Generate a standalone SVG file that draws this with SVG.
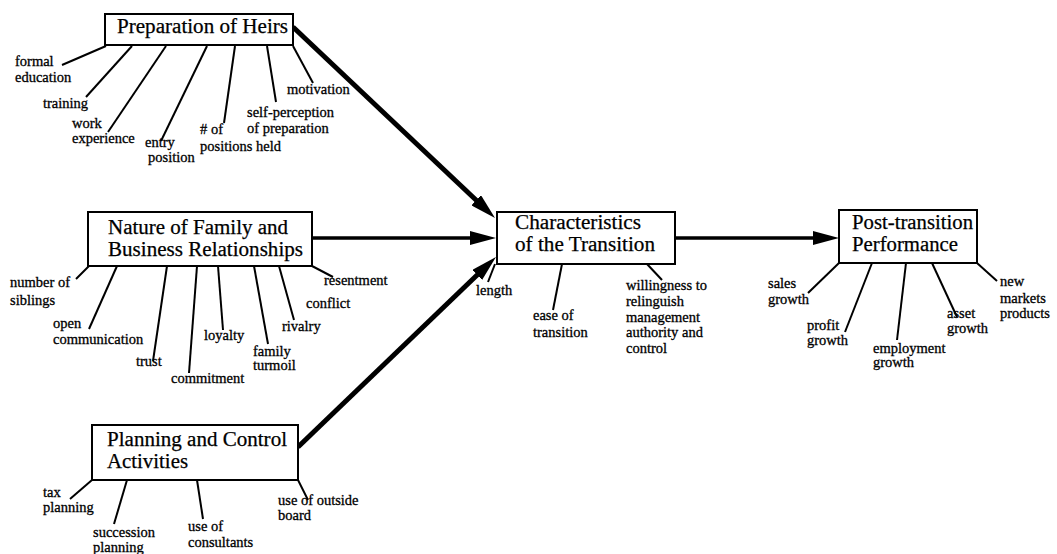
<svg xmlns="http://www.w3.org/2000/svg" width="1057" height="554" viewBox="0 0 1057 554">
  <style>
    .box { fill: #fff; stroke: #000; stroke-width: 2; }
    .title { font-family: "Liberation Serif", "Times New Roman", serif; font-size: 20px; fill: #000; stroke: #000; stroke-width: 0.25; }
    .lbl { font-family: "Liberation Serif", "Times New Roman", serif; font-size: 14.5px; fill: #000; stroke: #000; stroke-width: 0.3; }
    .tick { stroke: #000; stroke-width: 2; fill: none; }
    .arrow { stroke: #000; fill: none; marker-end: url(#head); }
  </style>
  <defs>
    <marker id="head" viewBox="0 0 26 14" refX="14" refY="7" markerWidth="26" markerHeight="14" markerUnits="userSpaceOnUse" orient="auto">
      <path d="M0,0 L26,7 L0,14 Z" fill="#000"/>
    </marker>
  </defs>
  <rect width="1057" height="554" fill="#fff"/>

  <!-- main arrows between constructs -->
  <g id="connectors">
    <line class="arrow" x1="293" y1="27" x2="486.3" y2="209.8" stroke-width="5"/>
    <line class="arrow" x1="312" y1="238" x2="484" y2="238" stroke-width="3.5"/>
    <line class="arrow" x1="298" y1="447" x2="487.3" y2="265.3" stroke-width="5"/>
    <line class="arrow" x1="676" y1="238" x2="827" y2="238" stroke-width="3.5"/>
  </g>

  <!-- Preparation of Heirs -->
  <g id="heirs">
    <rect class="box" x="105" y="14" width="188" height="31"/>
    <text class="title" x="117" y="33" textLength="171" lengthAdjust="spacingAndGlyphs">Preparation of Heirs</text>
    <line class="tick" x1="106" y1="46" x2="62" y2="65"/>
    <line class="tick" x1="132" y1="46" x2="86" y2="97"/>
    <line class="tick" x1="166" y1="46" x2="108" y2="132"/>
    <line class="tick" x1="207" y1="46" x2="161" y2="141"/>
    <line class="tick" x1="235" y1="46" x2="224" y2="123"/>
    <line class="tick" x1="267" y1="46" x2="276" y2="102"/>
    <line class="tick" x1="293" y1="46" x2="313" y2="83"/>
    <text class="lbl" x="15" y="66">formal</text>
    <text class="lbl" x="15" y="82">education</text>
    <text class="lbl" x="43" y="108">training</text>
    <text class="lbl" x="72" y="128">work</text>
    <text class="lbl" x="72" y="143">experience</text>
    <text class="lbl" x="145" y="147">entry</text>
    <text class="lbl" x="148" y="162">position</text>
    <text class="lbl" x="200" y="134">#  of</text>
    <text class="lbl" x="200" y="151">positions held</text>
    <text class="lbl" x="247" y="117">self-perception</text>
    <text class="lbl" x="247" y="133">of preparation</text>
    <text class="lbl" x="287" y="94">motivation</text>
  </g>

  <!-- Nature of Family and Business Relationships -->
  <g id="relationships">
    <rect class="box" x="88" y="212" width="224" height="54"/>
    <text class="title" x="108" y="234" textLength="180" lengthAdjust="spacingAndGlyphs">Nature of Family and</text>
    <text class="title" x="108" y="256" textLength="195" lengthAdjust="spacingAndGlyphs">Business Relationships</text>
    <line class="tick" x1="89" y1="266" x2="76" y2="279"/>
    <line class="tick" x1="117" y1="266" x2="89" y2="329"/>
    <line class="tick" x1="167" y1="266" x2="153" y2="361"/>
    <line class="tick" x1="197" y1="266" x2="189" y2="373"/>
    <line class="tick" x1="218" y1="266" x2="223" y2="330"/>
    <line class="tick" x1="254" y1="266" x2="268" y2="344"/>
    <line class="tick" x1="279" y1="266" x2="294" y2="320"/>
    <line class="tick" x1="312" y1="266" x2="333" y2="277"/>
    <text class="lbl" x="10" y="287">number of</text>
    <text class="lbl" x="10" y="305">siblings</text>
    <text class="lbl" x="53" y="328">open</text>
    <text class="lbl" x="53" y="344">communication</text>
    <text class="lbl" x="136" y="366">trust</text>
    <text class="lbl" x="171" y="383">commitment</text>
    <text class="lbl" x="204" y="340">loyalty</text>
    <text class="lbl" x="253" y="356">family</text>
    <text class="lbl" x="253" y="370">turmoil</text>
    <text class="lbl" x="282" y="331">rivalry</text>
    <text class="lbl" x="306" y="308">conflict</text>
    <text class="lbl" x="324" y="285">resentment</text>
  </g>

  <!-- Planning and Control Activities -->
  <g id="planning">
    <rect class="box" x="92" y="425" width="206" height="55"/>
    <text class="title" x="107" y="446" textLength="180" lengthAdjust="spacingAndGlyphs">Planning and Control</text>
    <text class="title" x="107" y="468" textLength="81" lengthAdjust="spacingAndGlyphs">Activities</text>
    <line class="tick" x1="92" y1="480" x2="70" y2="499"/>
    <line class="tick" x1="127" y1="480" x2="114" y2="524"/>
    <line class="tick" x1="197" y1="480" x2="203" y2="519"/>
    <line class="tick" x1="298" y1="480" x2="308" y2="500"/>
    <text class="lbl" x="43" y="497">tax</text>
    <text class="lbl" x="43" y="512">planning</text>
    <text class="lbl" x="93" y="537">succession</text>
    <text class="lbl" x="93" y="552">planning</text>
    <text class="lbl" x="188" y="531">use of</text>
    <text class="lbl" x="188" y="547">consultants</text>
    <text class="lbl" x="278" y="505">use of outside</text>
    <text class="lbl" x="278" y="520">board</text>
  </g>

  <!-- Characteristics of the Transition -->
  <g id="transition">
    <rect class="box" x="497" y="212" width="178" height="52"/>
    <text class="title" x="515" y="229" textLength="126" lengthAdjust="spacingAndGlyphs">Characteristics</text>
    <text class="title" x="515" y="251" textLength="140" lengthAdjust="spacingAndGlyphs">of the Transition</text>
    <line class="tick" x1="495" y1="264" x2="488" y2="282"/>
    <line class="tick" x1="562" y1="264" x2="553" y2="310"/>
    <line class="tick" x1="647" y1="264" x2="662" y2="280"/>
    <text class="lbl" x="476" y="295">length</text>
    <text class="lbl" x="533" y="320">ease of</text>
    <text class="lbl" x="533" y="337">transition</text>
    <text class="lbl" x="626" y="290">willingness to</text>
    <text class="lbl" x="626" y="306">relinguish</text>
    <text class="lbl" x="626" y="322">management</text>
    <text class="lbl" x="626" y="337">authority and</text>
    <text class="lbl" x="626" y="353">control</text>
  </g>

  <!-- Post-transition Performance -->
  <g id="performance">
    <rect class="box" x="839" y="210" width="138" height="53"/>
    <text class="title" x="852" y="229" textLength="121" lengthAdjust="spacingAndGlyphs">Post-transition</text>
    <text class="title" x="852" y="251" textLength="106" lengthAdjust="spacingAndGlyphs">Performance</text>
    <line class="tick" x1="839" y1="263" x2="808" y2="293"/>
    <line class="tick" x1="872" y1="263" x2="845" y2="332"/>
    <line class="tick" x1="906" y1="263" x2="897" y2="340"/>
    <line class="tick" x1="932" y1="263" x2="957" y2="317"/>
    <line class="tick" x1="977" y1="263" x2="997" y2="281"/>
    <text class="lbl" x="768" y="288">sales</text>
    <text class="lbl" x="768" y="304">growth</text>
    <text class="lbl" x="807" y="330">profit</text>
    <text class="lbl" x="807" y="345">growth</text>
    <text class="lbl" x="873" y="353">employment</text>
    <text class="lbl" x="873" y="367">growth</text>
    <text class="lbl" x="947" y="318">asset</text>
    <text class="lbl" x="947" y="333">growth</text>
    <text class="lbl" x="1000" y="286">new</text>
    <text class="lbl" x="1000" y="303">markets</text>
    <text class="lbl" x="1000" y="318">products</text>
  </g>
</svg>
